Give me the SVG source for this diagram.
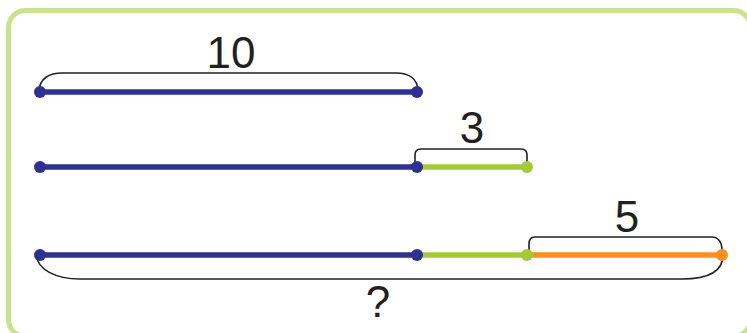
<svg xmlns="http://www.w3.org/2000/svg" width="747" height="333" viewBox="0 0 747 333">
<style>
.seg{stroke-width:5.5;fill:none;stroke-linecap:butt}
.blue{stroke:#2e3192}
.green{stroke:#a3cb38}
.orange{stroke:#f7901e}
.brace{stroke:#231f20;stroke-width:1.6;fill:none}
.lbl{font-family:"Liberation Sans",Arial,sans-serif;font-size:44px;fill:#231f20;text-anchor:middle}
</style>
<rect x="8.5" y="10.5" width="742" height="326" rx="17" fill="#ffffff" stroke="#c9e28f" stroke-width="5"/>
<g id="connectors">
<path class="brace" d="M39,92 C39,78 50,73 62,73 L396,73 C408,73 418,78 418,92"/>
<path class="brace" d="M415,162 L415,155 C415,151 417,149 421,149 L521,149 C525,149 527,151 527,155 L527,165"/>
<path class="brace" d="M529,250 L529,244 C529,240 531,237 535,237 L712,237 C718,237 722,242 722,250 L722,255"/>
<path class="brace" d="M36,255 C38,270 56,279 80,279 L682,279 C712,279 723,270 723,255"/>
</g>
<g id="row1">
<line class="seg blue" x1="40" y1="92" x2="417" y2="92"/>
<circle cx="40" cy="92" r="6" fill="#2e3192"/>
<circle cx="417" cy="92" r="6" fill="#2e3192"/>
<text class="lbl" x="231" y="68">10</text>
</g>
<g id="row2">
<line class="seg blue" x1="40" y1="167" x2="417" y2="167"/>
<line class="seg green" x1="417" y1="167" x2="527" y2="167"/>
<circle cx="40" cy="167" r="6" fill="#2e3192"/>
<circle cx="417" cy="167" r="6" fill="#2e3192"/>
<circle cx="527" cy="167" r="6" fill="#a3cb38"/>
<text class="lbl" x="472" y="143">3</text>
</g>
<g id="row3">
<line class="seg blue" x1="40" y1="255" x2="417" y2="255"/>
<line class="seg green" x1="417" y1="255" x2="527" y2="255"/>
<line class="seg orange" x1="527" y1="255" x2="722" y2="255"/>
<circle cx="40" cy="255" r="6" fill="#2e3192"/>
<circle cx="417" cy="255" r="6" fill="#2e3192"/>
<circle cx="527" cy="255" r="6" fill="#a3cb38"/>
<circle cx="722" cy="255" r="6" fill="#f7901e"/>
<text class="lbl" x="627" y="232">5</text>
<text class="lbl" x="378" y="317">?</text>
</g>
</svg>
